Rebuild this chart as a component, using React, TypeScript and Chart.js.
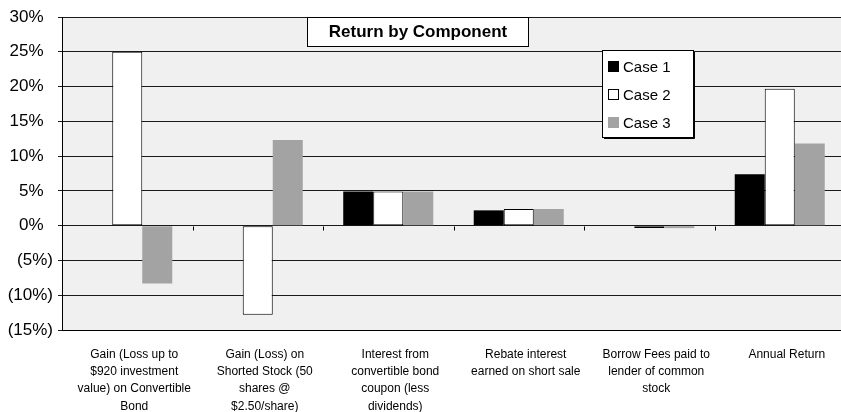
import React, { useEffect, useRef } from "react";
import { Chart, registerables } from "chart.js";

Chart.register(...registerables);

// ---- data ----
const categories: string[][] = [
  ["Gain (Loss up to", "$920 investment", "value) on Convertible", "Bond"],
  ["Gain (Loss) on", "Shorted Stock (50", "shares @", "$2.50/share)"],
  ["Interest from", "convertible bond", "coupon (less", "dividends)"],
  ["Rebate interest", "earned on short sale"],
  ["Borrow Fees paid to", "lender of common", "stock"],
  ["Annual Return"],
];
const seriesNames = ["Case 1", "Case 2", "Case 3"];
const case1 = [0, 0, 4.9, 2.2, 0, 7.4];
const case2 = [25, -12.8, 4.9, 2.4, -0.35, 19.7];
const case3 = [-8.3, 12.3, 4.9, 2.4, -0.35, 11.8];
const yMin = -15;
const yMax = 30;
const yStep = 5;
const chartTitle = "Return by Component";

const FONT = '"Liberation Sans", Arial, Helvetica, sans-serif';
const seriesFill = ["#000000", "#ffffff", "#a3a3a3"];

function fmtTick(v: number): string {
  if (v < 0) return "(" + Math.abs(v) + "%)";
  return v + "%  ";
}

const decorPlugin = {
  id: "decor",
  beforeDraw(chart: any) {
    const { ctx, chartArea: a } = chart;
    ctx.save();
    ctx.fillStyle = "#f0f0f0";
    ctx.fillRect(a.left, a.top, a.right - a.left, a.bottom - a.top);
    ctx.restore();
  },
  afterDraw(chart: any) {
    const { ctx } = chart;
    const xs = chart.scales.x;
    const ys = chart.scales.y;
    const y0 = Math.round(ys.getPixelForValue(0)) + 0.5;
    const step = xs.getPixelForValue(1) - xs.getPixelForValue(0);
    ctx.save();
    ctx.strokeStyle = "#000";
    ctx.lineWidth = 1;
    ctx.beginPath();
    for (let i = 0; i < categories.length - 1; i++) {
      const px = Math.round(xs.getPixelForValue(i) + step / 2) + 0.5;
      ctx.moveTo(px, y0);
      ctx.lineTo(px, y0 + 4);
    }
    ctx.stroke();

    // title box
    const tx = 307, ty = 17, tw = 221, th = 29;
    ctx.fillStyle = "#fff";
    ctx.fillRect(tx, ty, tw, th);
    ctx.strokeStyle = "#000";
    ctx.strokeRect(tx + 0.5, ty + 0.5, tw, th);
    ctx.fillStyle = "#000";
    ctx.font = "bold 17px " + FONT;
    ctx.textAlign = "center";
    ctx.textBaseline = "middle";
    ctx.fillText(chartTitle, tx + tw / 2 + 0.5, ty + th / 2 + 1);

    // legend box
    const lx = 602, ly = 50, lw = 91, lh = 87;
    ctx.fillStyle = "#fff";
    ctx.fillRect(lx, ly, lw, lh);
    ctx.strokeStyle = "#000";
    ctx.lineWidth = 1;
    ctx.strokeRect(lx + 0.5, ly + 0.5, lw, lh);
    ctx.beginPath();
    ctx.moveTo(lx + lw + 1.5, ly + 2);
    ctx.lineTo(lx + lw + 1.5, ly + lh + 1.5);
    ctx.lineTo(lx + 2, ly + lh + 1.5);
    ctx.stroke();
    const rows = [67, 95, 123];
    ctx.font = "15px " + FONT;
    ctx.textAlign = "left";
    ctx.textBaseline = "middle";
    seriesNames.forEach((name, i) => {
      const cy = rows[i];
      ctx.fillStyle = seriesFill[i];
      ctx.fillRect(608, cy - 6, 11, 11);
      if (i === 1) {
        ctx.strokeStyle = "#000";
        ctx.strokeRect(608.5, cy - 5.5, 10, 10);
      }
      ctx.fillStyle = "#000";
      ctx.fillText(name, 623, cy + 1);
    });
    ctx.restore();
  },
};

export default function App() {
  const ref = useRef<HTMLCanvasElement | null>(null);
  useEffect(() => {
    document.body.style.margin = "0";
    document.body.style.overflow = "hidden";
    const canvas = ref.current;
    if (!canvas) return;
    const chart = new Chart(canvas, {
      type: "bar",
      data: {
        labels: categories,
        datasets: [
          {
            label: seriesNames[0],
            data: case1,
            backgroundColor: seriesFill[0],
            borderWidth: 0,
          },
          {
            label: seriesNames[1],
            data: case2,
            backgroundColor: seriesFill[1],
            borderColor: "#000",
            borderWidth: 1,
            borderSkipped: false,
          },
          {
            label: seriesNames[2],
            data: case3,
            backgroundColor: seriesFill[2],
            borderWidth: 0,
          },
        ],
      },
      options: {
        responsive: false,
        animation: false,
        devicePixelRatio: 1,
        layout: { padding: { top: 17, left: 0, right: 0, bottom: 0 } },
        datasets: {
          bar: { categoryPercentage: 0.69, barPercentage: 1.0 },
        },
        plugins: {
          legend: { display: false },
          title: { display: false },
          tooltip: { enabled: false },
        },
        scales: {
          x: {
            type: "category",
            grid: { display: false },
            border: { display: true, color: "#000", width: 1 },
            ticks: {
              color: "#000",
              font: { family: FONT, size: 12, lineHeight: "17.2px" },
              maxRotation: 0,
              minRotation: 0,
              autoSkip: false,
              padding: 8,
              labelOffset: 7,
            },
            afterFit: (s: any) => {
              s.height = 82;
            },
          },
          y: {
            min: yMin,
            max: yMax,
            grid: {
              color: "#1a1a1a",
              lineWidth: 1,
              drawTicks: true,
              tickLength: 4,
            },
            border: { display: true, color: "#000", width: 1 },
            ticks: {
              stepSize: yStep,
              color: "#000",
              font: { family: FONT, size: 17 },
              padding: 5,
              callback: (v: any) => fmtTick(Number(v)),
            },
            afterFit: (s: any) => {
              s.width = 62;
            },
          },
        },
      },
      plugins: [decorPlugin],
    });
    return () => chart.destroy();
  }, []);
  return (
    <div style={{ width: 845, height: 412, overflow: "hidden" }}>
      <canvas ref={ref} width={845} height={412} style={{ display: "block" }} />
    </div>
  );
}
